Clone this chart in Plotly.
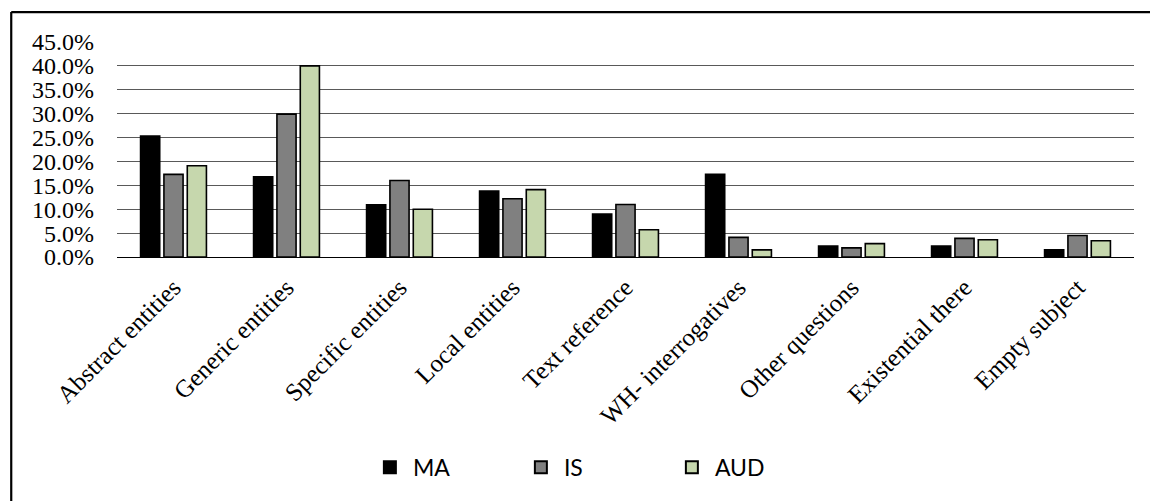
import plotly.graph_objects as go

categories = [
    "Abstract entities", "Generic entities", "Specific entities",
    "Local entities", "Text reference", "WH- interrogatives",
    "Other questions", "Existential there", "Empty subject",
]
ma_values = [25.3, 16.8, 10.9, 13.8, 9.0, 17.3, 2.3, 2.3, 1.5]
is_values = [17.3, 29.9, 16.0, 12.2, 11.0, 4.1, 1.9, 3.9, 4.5]
aud_values = [19.1, 40.0, 10.0, 14.1, 5.7, 1.5, 2.8, 3.6, 3.4]
y_ticks = [0, 5, 10, 15, 20, 25, 30, 35, 40, 45]
y_tick_text = [f"{v:.1f}%" for v in y_ticks]

series = [
    ("MA", ma_values, "#000000"),
    ("IS", is_values, "#808080"),
    ("AUD", aud_values, "#C6D7AD"),
]

fig = go.Figure()
for name, vals, color in series:
    fig.add_trace(go.Bar(
        x=categories, y=vals, name=name,
        marker=dict(color=color, line=dict(color="#000000", width=1.6)),
    ))

serif = "'Liberation Serif', serif"

fig.update_layout(
    width=1150, height=501,
    margin=dict(l=117, r=16, t=42, b=244),
    paper_bgcolor="white", plot_bgcolor="white",
    barmode="group", bargap=0.38, bargroupgap=0.18,
    showlegend=True,
    legend=dict(
        orientation="h", x=0.2457, xanchor="left", y=-0.978, yanchor="middle",
        font=dict(family="Lato, 'Liberation Sans', sans-serif", size=23, color="#000"),
        entrywidth=100, itemwidth=36, itemsizing="constant", traceorder="normal",
    ),
    xaxis=dict(
        tickangle=-45, showgrid=False, showline=False, ticks="",
        ticklabelstandoff=10,
        tickfont=dict(family=serif, size=25, color="#000"),
    ),
    yaxis=dict(
        range=[0, 45], tickmode="array", tickvals=y_ticks, ticktext=y_tick_text,
        showgrid=True, gridcolor="#595959", gridwidth=1,
        zeroline=True, zerolinecolor="#000000", zerolinewidth=1,
        showline=False, ticks="", ticklabelstandoff=22,
        tickfont=dict(family=serif, size=24, color="#000"),
    ),
)

# Frame around the chart (top and left edges)
frame_x = -0.104
frame_top = 1.139
fig.add_shape(type="line", xref="paper", yref="paper",
              x0=frame_x, x1=frame_x, y0=-1.3, y1=frame_top,
              line=dict(color="#000", width=2.2))
fig.add_shape(type="line", xref="paper", yref="paper",
              x0=frame_x, x1=1.05, y0=frame_top, y1=frame_top,
              line=dict(color="#000", width=2.2))

fig.write_html("out.html")
